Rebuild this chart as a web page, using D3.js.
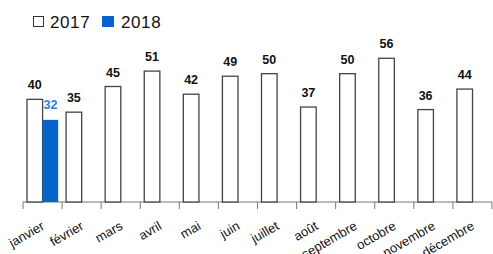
<!DOCTYPE html>
<html>
<head>
<meta charset="utf-8">
<script src="https://cdn.jsdelivr.net/npm/d3@7"></script>
<style>
  body { margin: 0; background: #fff; }
  text { font-family: "Liberation Sans", Arial, sans-serif; }
</style>
</head>
<body>
<div id="chart"></div>
<script>
var months = ['janvier','février','mars','avril','mai','juin','juillet','août','septembre','octobre','novembre','décembre'];
var values2017 = [40, 35, 45, 51, 42, 49, 50, 37, 50, 56, 36, 44];
var values2018 = [32];
var seriesNames = ['2017', '2018'];

var width = 493, height = 254;
var svg = d3.select('#chart')
  .append('svg')
  .attr('width', width)
  .attr('height', height);

var x = d3.scaleBand()
  .domain(months)
  .range([23, 492]);

var y = d3.scaleLinear()
  .domain([0, 60])
  .range([202, 48]);

var barW = 15.6;
var pad = 4;

// axis line + ticks at band edges
var axisG = svg.append('g');
axisG.append('line')
  .attr('x1', x.range()[0]).attr('x2', x.range()[1])
  .attr('y1', y(0)).attr('y2', y(0))
  .attr('stroke', '#777').attr('stroke-width', 1);
var edges = months.map(function(m){ return x(m); }).concat([x.range()[1]]);
axisG.selectAll('line.tick')
  .data(edges)
  .enter().append('line')
  .attr('class', 'tick')
  .attr('x1', function(d){ return d; }).attr('x2', function(d){ return d; })
  .attr('y1', y(0)).attr('y2', y(0) + 7)
  .attr('stroke', '#777').attr('stroke-width', 1);

// month labels
axisG.selectAll('text.month')
  .data(months)
  .enter().append('text')
  .attr('class', 'month')
  .attr('text-anchor', 'end')
  .attr('font-size', 13)
  .attr('fill', '#111')
  .attr('transform', function(d){
    return 'translate(' + (x(d) + x.bandwidth()/2 + 2.8) + ',228.5) rotate(-30)';
  })
  .text(function(d){ return d; });

// 2017 bars
svg.selectAll('rect.b2017')
  .data(values2017)
  .enter().append('rect')
  .attr('class', 'b2017')
  .attr('x', function(d, i){ return x(months[i]) + pad; })
  .attr('y', function(d){ return y(d); })
  .attr('width', barW)
  .attr('height', function(d){ return y(0) - y(d); })
  .attr('fill', '#fff')
  .attr('stroke', '#444')
  .attr('stroke-width', 1.3);

svg.selectAll('text.l2017')
  .data(values2017)
  .enter().append('text')
  .attr('class', 'l2017')
  .attr('x', function(d, i){ return x(months[i]) + pad + barW/2; })
  .attr('y', function(d){ return y(d) - 10; })
  .attr('text-anchor', 'middle')
  .attr('font-size', 12.5)
  .attr('font-weight', 'bold')
  .attr('fill', '#111')
  .text(function(d){ return d; });

// 2018 bars
svg.selectAll('rect.b2018')
  .data(values2018)
  .enter().append('rect')
  .attr('class', 'b2018')
  .attr('x', function(d, i){ return x(months[i]) + pad + barW; })
  .attr('y', function(d){ return y(d); })
  .attr('width', barW)
  .attr('height', function(d){ return y(0) - y(d); })
  .attr('fill', '#0664cc');

svg.selectAll('text.l2018')
  .data(values2018)
  .enter().append('text')
  .attr('class', 'l2018')
  .attr('x', function(d, i){ return x(months[i]) + pad + barW * 1.5; })
  .attr('y', function(d){ return y(d) - 11; })
  .attr('text-anchor', 'middle')
  .attr('font-size', 12.5)
  .attr('font-weight', 'bold')
  .attr('fill', '#2a80dc')
  .text(function(d){ return d; });

// legend
var legend = svg.append('g');
legend.append('rect')
  .attr('x', 33.5).attr('y', 16.5).attr('width', 10).attr('height', 10)
  .attr('fill', '#fff').attr('stroke', '#333').attr('stroke-width', 1);
legend.append('text')
  .attr('x', 50).attr('y', 27.5)
  .attr('font-size', 17)
  .attr('letter-spacing', 0.6)
  .attr('fill', '#111')
  .text(seriesNames[0]);
legend.append('rect')
  .attr('x', 102).attr('y', 16).attr('width', 12).attr('height', 11)
  .attr('fill', '#0664cc');
legend.append('text')
  .attr('x', 121).attr('y', 27.5)
  .attr('font-size', 17)
  .attr('letter-spacing', 0.6)
  .attr('fill', '#111')
  .text(seriesNames[1]);
</script>
</body>
</html>
